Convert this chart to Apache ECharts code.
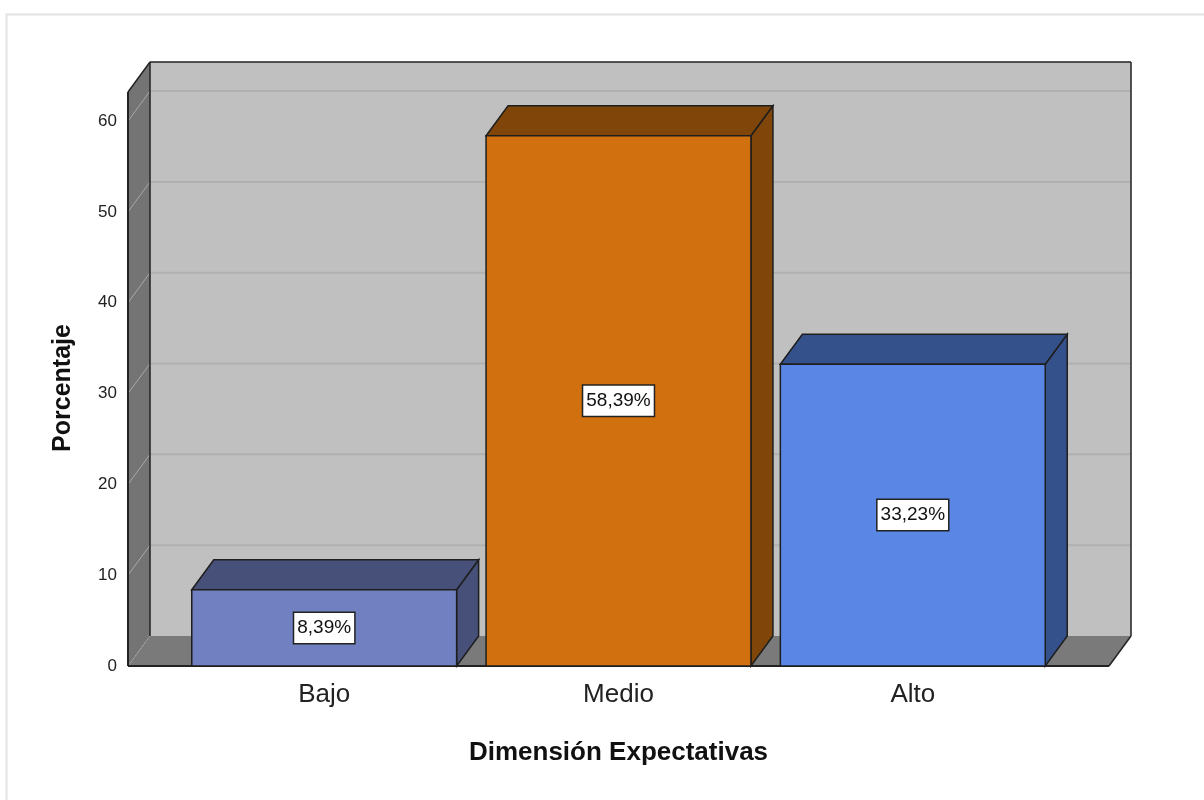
<!DOCTYPE html>
<html>
<head>
<meta charset="utf-8">
<script src="https://cdn.jsdelivr.net/npm/echarts@6/dist/echarts.min.js"></script>
<style>
html,body{margin:0;padding:0;background:#fff;}
#main{width:1204px;height:800px;}
</style>
</head>
<body>
<div id="main"></div>
<script>
var categories = ['Bajo', 'Medio', 'Alto'];
var values = [8.39, 58.39, 33.23];
var valueLabels = ['8,39%', '58,39%', '33,23%'];
var yTicks = [0, 10, 20, 30, 40, 50, 60];
var frontColors = ['#7080c0', '#d0700e', '#5a87e5'];
var darkColors = ['#465078', '#7f4509', '#35518c'];

var xMin = -2 / 3, xMax = 2 + 2 / 3, yMax = 63.2;
var depthX = 22, depthY = -30;
var font = "'Liberation Sans', Arial, sans-serif";

var myChart = echarts.init(document.getElementById('main'), null, {renderer: 'canvas'});

function renderWalls(params, api) {
    var bl = api.coord([xMin, 0]);
    var tr = api.coord([xMax, yMax]);
    var left = bl[0], bottom = bl[1], right = tr[0], top = tr[1];
    var dx = depthX, dy = depthY;
    var edge = {stroke: '#222', lineWidth: 1.5};
    var kids = [];
    // back wall
    kids.push({type: 'rect', shape: {x: left + dx, y: top + dy, width: right - left, height: bottom - top},
        style: {fill: '#c0c0c0'}});
    // left wall
    kids.push({type: 'polygon', shape: {points: [[left, top], [left + dx, top + dy], [left + dx, bottom + dy], [left, bottom]]},
        style: {fill: '#747474'}});
    // grid lines
    for (var i = 0; i < yTicks.length; i++) {
        var y = api.coord([xMin, yTicks[i]])[1];
        if (yTicks[i] > 0) {
            kids.push({type: 'line', shape: {x1: left + dx, y1: y + dy, x2: right + dx, y2: y + dy},
                style: {stroke: '#b0b0b0', lineWidth: 2}});
            kids.push({type: 'line', shape: {x1: left, y1: y, x2: left + dx, y2: y + dy},
                style: {stroke: '#a8a8a8', lineWidth: 1}});
        }
    }
    // floor
    kids.push({type: 'polygon', shape: {points: [[left, bottom], [left + dx, bottom + dy], [right + dx, bottom + dy], [right, bottom]]},
        style: {fill: '#7a7a7a'}});
    kids.push({type: 'line', shape: {x1: left, y1: bottom, x2: left + dx, y2: bottom + dy},
        style: {stroke: '#a8a8a8', lineWidth: 1, lineDash: [2, 2]}});
    // outlines
    kids.push({type: 'line', shape: {x1: left + dx, y1: top + dy, x2: right + dx, y2: top + dy}, style: edge});
    kids.push({type: 'line', shape: {x1: right + dx, y1: top + dy, x2: right + dx, y2: bottom + dy}, style: edge});
    kids.push({type: 'line', shape: {x1: left + dx, y1: top + dy, x2: left + dx, y2: bottom + dy}, style: edge});
    kids.push({type: 'line', shape: {x1: left, y1: top, x2: left + dx, y2: top + dy}, style: edge});
    kids.push({type: 'line', shape: {x1: left, y1: top, x2: left, y2: bottom}, style: {stroke: '#222', lineWidth: 2}});
    kids.push({type: 'line', shape: {x1: left, y1: bottom, x2: right, y2: bottom}, style: {stroke: '#222', lineWidth: 2}});
    kids.push({type: 'line', shape: {x1: right, y1: bottom, x2: right + dx, y2: bottom + dy}, style: edge});
    return {type: 'group', children: kids};
}

function renderBar(params, api) {
    var idx = params.dataIndex;
    var x = api.value(0), v = api.value(1);
    var p0 = api.coord([x - 0.45, 0]);
    var p1 = api.coord([x + 0.45, v]);
    var x0 = p0[0], y0 = p0[1], x1 = p1[0], yt = p1[1];
    var dx = depthX, dy = depthY;
    var edge = {stroke: '#1e1e1e', lineWidth: 1.5};
    return {
        type: 'group',
        children: [
            {type: 'polygon', shape: {points: [[x1, yt], [x1 + dx, yt + dy], [x1 + dx, y0 + dy], [x1, y0]]},
                style: Object.assign({fill: darkColors[idx]}, edge)},
            {type: 'polygon', shape: {points: [[x0, yt], [x0 + dx, yt + dy], [x1 + dx, yt + dy], [x1, yt]]},
                style: Object.assign({fill: darkColors[idx]}, edge)},
            {type: 'rect', shape: {x: x0, y: yt, width: x1 - x0, height: y0 - yt},
                style: Object.assign({fill: frontColors[idx]}, edge)},
            {type: 'text', x: (x0 + x1) / 2, y: (y0 + yt) / 2,
                style: {text: valueLabels[idx], fill: '#111', font: '19px ' + font,
                    align: 'center', verticalAlign: 'middle',
                    backgroundColor: '#fff', borderColor: '#222', borderWidth: 1.5, padding: [6, 3, 5, 3]}},
            {type: 'text', x: (x0 + x1) / 2, y: y0 + 29,
                style: {text: categories[idx], fill: '#222', font: '26px ' + font,
                    align: 'center', verticalAlign: 'middle'}}
        ]
    };
}

var barData = [];
for (var i = 0; i < categories.length; i++) {
    barData.push([i, values[i]]);
}

var option = {
    backgroundColor: '#fff',
    animation: false,
    graphic: [{
        type: 'rect', left: 4, top: 12, z: -10,
        shape: {width: 1210, height: 800},
        style: {fill: 'none', stroke: '#e3e3e3', lineWidth: 2}
    }],
    grid: {left: 128, right: 95, top: 92, bottom: 134},
    xAxis: {
        type: 'value', min: xMin, max: xMax,
        axisLine: {show: false}, axisTick: {show: false}, axisLabel: {show: false}, splitLine: {show: false},
        name: 'Dimensión Expectativas', nameLocation: 'middle', nameGap: 74,
        nameTextStyle: {fontSize: 26, fontWeight: 'bold', color: '#111', fontFamily: font}
    },
    yAxis: {
        type: 'value', min: 0, max: yMax, interval: 10,
        axisLine: {show: false}, axisTick: {show: false}, splitLine: {show: false},
        axisLabel: {
            margin: 11, fontSize: 17, color: '#222', fontFamily: font,
            formatter: function (v) { return yTicks.indexOf(v) >= 0 ? String(v) : ''; }
        },
        name: 'Porcentaje', nameLocation: 'middle', nameGap: 52, nameRotate: 90,
        nameTextStyle: {fontSize: 25, fontWeight: 'bold', color: '#111', fontFamily: font, padding: [0, 18, 0, 0]}
    },
    series: [
        {type: 'custom', z: 1, silent: true, renderItem: renderWalls, data: [[0, 0]]},
        {type: 'custom', z: 2, renderItem: renderBar, data: barData}
    ]
};
myChart.setOption(option);
</script>
</body>
</html>
